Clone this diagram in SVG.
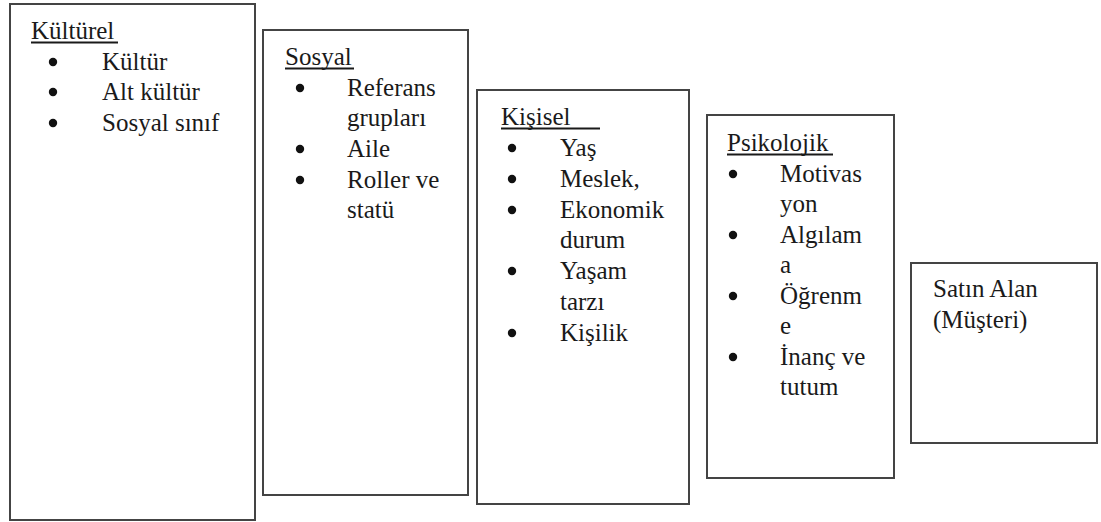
<svg xmlns="http://www.w3.org/2000/svg" width="1101" height="522" viewBox="0 0 1101 522">
<style>
.box{fill:#fff;stroke:#444;stroke-width:2}
.n{font-family:'Liberation Serif','Times New Roman',serif;font-size:25px;fill:#1a1a1a}
.d{fill:#111}
.u{stroke:#1a1a1a;stroke-width:1.8}
</style>
<rect width="1101" height="522" fill="#fff"/>
<g id="kulturel" class="n">
<rect class="box" x="10" y="4" width="245" height="516"/>
<text x="31" y="39">Kültürel</text>
<line class="u" x1="31" y1="42.5" x2="118" y2="42.5"/>
<circle class="d" cx="53" cy="62" r="4.2"/><text x="102" y="70">Kültür</text>
<circle class="d" cx="53" cy="92" r="4.2"/><text x="102" y="100">Alt kültür</text>
<circle class="d" cx="53" cy="123" r="4.2"/><text x="102" y="131">Sosyal sınıf</text>
</g>
<g id="sosyal" class="n">
<rect class="box" x="263" y="30" width="205" height="465"/>
<text x="285" y="65">Sosyal</text>
<line class="u" x1="285" y1="68.5" x2="354" y2="68.5"/>
<circle class="d" cx="300" cy="88" r="4.2"/><text x="347" y="96">Referans</text>
<text x="347" y="126">grupları</text>
<circle class="d" cx="300" cy="149" r="4.2"/><text x="347" y="157">Aile</text>
<circle class="d" cx="300" cy="180" r="4.2"/><text x="347" y="188">Roller ve</text>
<text x="347" y="218">statü</text>
</g>
<g id="kisisel" class="n">
<rect class="box" x="477" y="90" width="212" height="414"/>
<text x="501" y="125">Kişisel</text>
<line class="u" x1="501" y1="128.5" x2="600" y2="128.5"/>
<circle class="d" cx="512" cy="148" r="4.2"/><text x="560" y="156">Yaş</text>
<circle class="d" cx="512" cy="179" r="4.2"/><text x="560" y="187">Meslek,</text>
<circle class="d" cx="512" cy="210" r="4.2"/><text x="560" y="218">Ekonomik</text>
<text x="560" y="248">durum</text>
<circle class="d" cx="512" cy="271" r="4.2"/><text x="560" y="279">Yaşam</text>
<text x="560" y="310">tarzı</text>
<circle class="d" cx="512" cy="333" r="4.2"/><text x="560" y="341">Kişilik</text>
</g>
<g id="psikolojik" class="n">
<rect class="box" x="707" y="115" width="187" height="363"/>
<text x="727" y="151">Psikolojik</text>
<line class="u" x1="727" y1="154.5" x2="833" y2="154.5"/>
<circle class="d" cx="733" cy="174" r="4.2"/><text x="780" y="182">Motivas</text>
<text x="780" y="212">yon</text>
<circle class="d" cx="733" cy="235" r="4.2"/><text x="780" y="243">Algılam</text>
<text x="780" y="273">a</text>
<circle class="d" cx="733" cy="296" r="4.2"/><text x="780" y="304">Öğrenm</text>
<text x="780" y="334">e</text>
<circle class="d" cx="733" cy="357" r="4.2"/><text x="780" y="365">İnanç ve</text>
<text x="780" y="395">tutum</text>
</g>
<g id="satin-alan" class="n">
<rect class="box" x="911" y="263" width="186" height="180"/>
<text x="933" y="297">Satın Alan</text>
<text x="933" y="328">(Müşteri)</text>
</g>
<g id="connectors"></g>
</svg>
